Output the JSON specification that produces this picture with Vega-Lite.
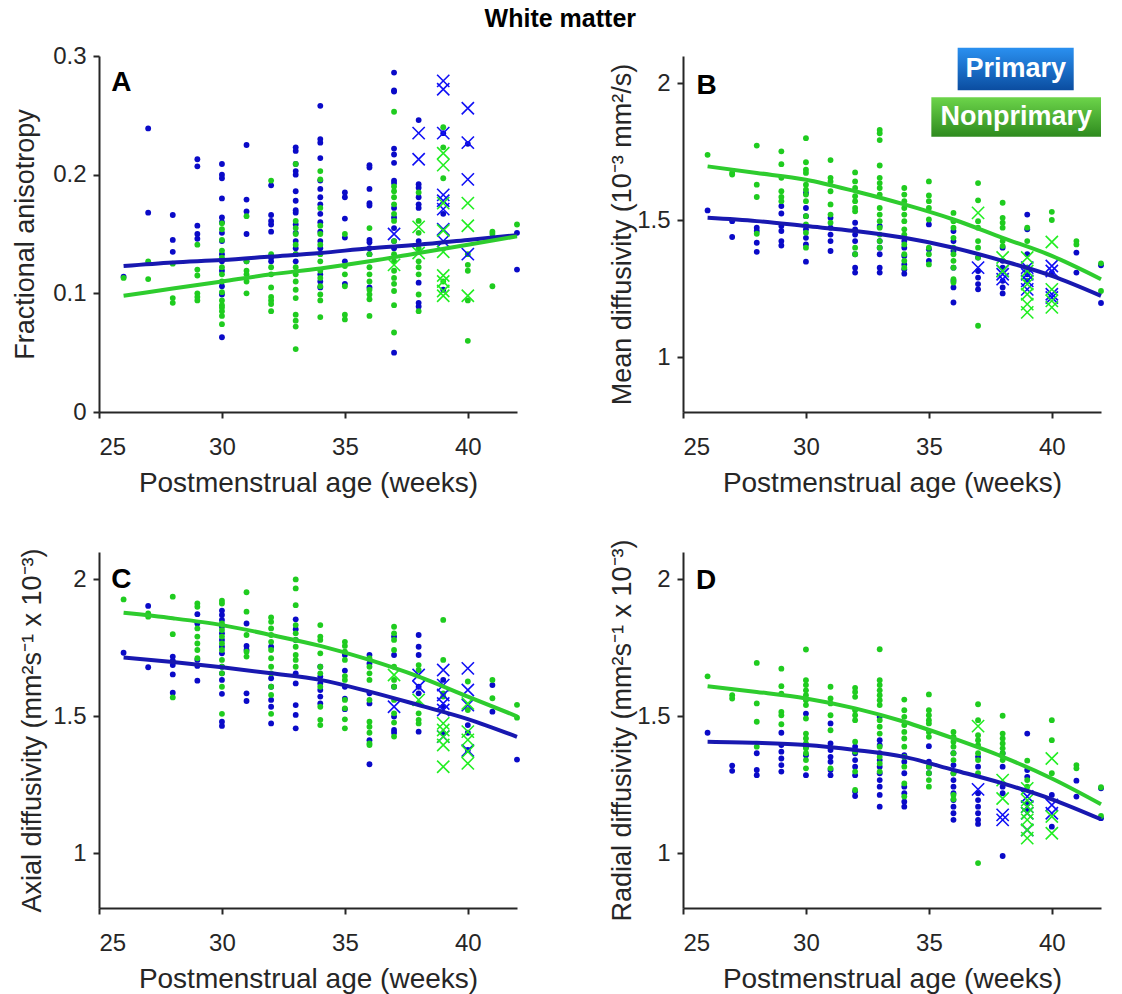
{
"$schema": "https://vega.github.io/schema/vega-lite/v6.json",
"padding": {"left": 11, "top": 7, "right": 5, "bottom": 5},
"title": {"text": "White matter", "fontSize": 25, "fontWeight": "bold", "color": "black", "font": "Liberation Sans", "offset": 12, "anchor": "middle"},
"config": {
  "font": "Liberation Sans",
  "view": {"stroke": null},
  "axis": {"grid": false, "domainColor": "#262626", "domainWidth": 2, "tickColor": "#262626", "tickWidth": 2, "tickSize": 6, "labelFontSize": 24, "labelColor": "#262626", "titleFontWeight": "normal", "titleColor": "#262626"},
  "axisX": {"labelPadding": 17, "titlePadding": 10, "titleFontSize": 28},
  "axisY": {"labelPadding": 7, "titleFontSize": 27}
},
"datasets": {
"A": [
{"g":"P","x":26,"y":0.114},{"g":"N","x":26,"y":0.113},
{"g":"P","x":27,"y":0.239},{"g":"P","x":27,"y":0.168},{"g":"N","x":27,"y":0.127},{"g":"N","x":27,"y":0.112},
{"g":"P","x":28,"y":0.166},{"g":"P","x":28,"y":0.145},{"g":"P","x":28,"y":0.135},{"g":"N","x":28,"y":0.125},{"g":"N","x":28,"y":0.096},{"g":"N","x":28,"y":0.092},
{"g":"P","x":29,"y":0.213},{"g":"P","x":29,"y":0.207},{"g":"P","x":29,"y":0.157},{"g":"P","x":29,"y":0.150},{"g":"P","x":29,"y":0.146},
{"g":"N","x":29,"y":0.141},{"g":"N","x":29,"y":0.120},{"g":"N","x":29,"y":0.115},{"g":"N","x":29,"y":0.100},{"g":"N","x":29,"y":0.097},{"g":"N","x":29,"y":0.094},
{"g":"P","x":30,"y":0.209},{"g":"P","x":30,"y":0.200},{"g":"P","x":30,"y":0.197},{"g":"P","x":30,"y":0.180},{"g":"P","x":30,"y":0.164},{"g":"P","x":30,"y":0.160},{"g":"P","x":30,"y":0.151},{"g":"P","x":30,"y":0.144},{"g":"P","x":30,"y":0.133},{"g":"P","x":30,"y":0.127},{"g":"P","x":30,"y":0.119},{"g":"P","x":30,"y":0.106},{"g":"P","x":30,"y":0.099},{"g":"P","x":30,"y":0.063},
{"g":"N","x":30,"y":0.159},{"g":"N","x":30,"y":0.154},{"g":"N","x":30,"y":0.145},{"g":"N","x":30,"y":0.136},{"g":"N","x":30,"y":0.130},{"g":"N","x":30,"y":0.122},{"g":"N","x":30,"y":0.116},{"g":"N","x":30,"y":0.110},{"g":"N","x":30,"y":0.101},{"g":"N","x":30,"y":0.094},{"g":"N","x":30,"y":0.090},{"g":"N","x":30,"y":0.088},{"g":"N","x":30,"y":0.085},{"g":"N","x":30,"y":0.081},{"g":"N","x":30,"y":0.074},
{"g":"P","x":31,"y":0.225},{"g":"P","x":31,"y":0.179},{"g":"P","x":31,"y":0.169},{"g":"P","x":31,"y":0.150},{"g":"P","x":31,"y":0.127},
{"g":"N","x":31,"y":0.165},{"g":"N","x":31,"y":0.127},{"g":"N","x":31,"y":0.119},{"g":"N","x":31,"y":0.116},{"g":"N","x":31,"y":0.110},{"g":"N","x":31,"y":0.100},
{"g":"P","x":32,"y":0.191},{"g":"P","x":32,"y":0.166},{"g":"P","x":32,"y":0.161},{"g":"P","x":32,"y":0.158},{"g":"P","x":32,"y":0.152},{"g":"P","x":32,"y":0.130},{"g":"P","x":32,"y":0.127},
{"g":"N","x":32,"y":0.195},{"g":"N","x":32,"y":0.133},{"g":"N","x":32,"y":0.122},{"g":"N","x":32,"y":0.116},{"g":"N","x":32,"y":0.105},{"g":"N","x":32,"y":0.097},{"g":"N","x":32,"y":0.094},{"g":"N","x":32,"y":0.091},{"g":"N","x":32,"y":0.085},
{"g":"P","x":33,"y":0.223},{"g":"P","x":33,"y":0.220},{"g":"P","x":33,"y":0.209},{"g":"P","x":33,"y":0.203},{"g":"P","x":33,"y":0.200},{"g":"P","x":33,"y":0.186},{"g":"P","x":33,"y":0.178},{"g":"P","x":33,"y":0.170},{"g":"P","x":33,"y":0.168},{"g":"P","x":33,"y":0.158},{"g":"P","x":33,"y":0.151},{"g":"P","x":33,"y":0.144},{"g":"P","x":33,"y":0.138},{"g":"P","x":33,"y":0.133},{"g":"P","x":33,"y":0.127},
{"g":"N","x":33,"y":0.209},{"g":"N","x":33,"y":0.161},{"g":"N","x":33,"y":0.155},{"g":"N","x":33,"y":0.150},{"g":"N","x":33,"y":0.141},{"g":"N","x":33,"y":0.133},{"g":"N","x":33,"y":0.122},{"g":"N","x":33,"y":0.116},{"g":"N","x":33,"y":0.110},{"g":"N","x":33,"y":0.103},{"g":"N","x":33,"y":0.096},{"g":"N","x":33,"y":0.082},{"g":"N","x":33,"y":0.077},{"g":"N","x":33,"y":0.072},{"g":"N","x":33,"y":0.053},
{"g":"P","x":34,"y":0.258},{"g":"P","x":34,"y":0.230},{"g":"P","x":34,"y":0.227},{"g":"P","x":34,"y":0.214},{"g":"P","x":34,"y":0.195},{"g":"P","x":34,"y":0.188},{"g":"P","x":34,"y":0.181},{"g":"P","x":34,"y":0.175},{"g":"P","x":34,"y":0.167},{"g":"P","x":34,"y":0.160},{"g":"P","x":34,"y":0.152},{"g":"P","x":34,"y":0.144},{"g":"P","x":34,"y":0.138},{"g":"P","x":34,"y":0.116},{"g":"P","x":34,"y":0.110},{"g":"P","x":34,"y":0.105},
{"g":"N","x":34,"y":0.203},{"g":"N","x":34,"y":0.196},{"g":"N","x":34,"y":0.172},{"g":"N","x":34,"y":0.157},{"g":"N","x":34,"y":0.150},{"g":"N","x":34,"y":0.141},{"g":"N","x":34,"y":0.133},{"g":"N","x":34,"y":0.127},{"g":"N","x":34,"y":0.119},{"g":"N","x":34,"y":0.113},{"g":"N","x":34,"y":0.106},{"g":"N","x":34,"y":0.099},{"g":"N","x":34,"y":0.094},{"g":"N","x":34,"y":0.080},
{"g":"P","x":35,"y":0.185},{"g":"P","x":35,"y":0.181},{"g":"P","x":35,"y":0.163},{"g":"P","x":35,"y":0.147},{"g":"P","x":35,"y":0.127},{"g":"P","x":35,"y":0.108},
{"g":"N","x":35,"y":0.150},{"g":"N","x":35,"y":0.123},{"g":"N","x":35,"y":0.116},{"g":"N","x":35,"y":0.106},{"g":"N","x":35,"y":0.082},{"g":"N","x":35,"y":0.078},
{"g":"P","x":36,"y":0.208},{"g":"P","x":36,"y":0.206},{"g":"P","x":36,"y":0.188},{"g":"P","x":36,"y":0.176},{"g":"P","x":36,"y":0.174},{"g":"P","x":36,"y":0.145},{"g":"P","x":36,"y":0.143},{"g":"P","x":36,"y":0.138},{"g":"P","x":36,"y":0.133},{"g":"P","x":36,"y":0.105},
{"g":"N","x":36,"y":0.155},{"g":"N","x":36,"y":0.133},{"g":"N","x":36,"y":0.122},{"g":"N","x":36,"y":0.116},{"g":"N","x":36,"y":0.110},{"g":"N","x":36,"y":0.103},{"g":"N","x":36,"y":0.099},{"g":"N","x":36,"y":0.095},{"g":"N","x":36,"y":0.081},
{"g":"P","x":37,"y":0.286},{"g":"P","x":37,"y":0.271},{"g":"P","x":37,"y":0.270},{"g":"P","x":37,"y":0.222},{"g":"P","x":37,"y":0.217},{"g":"P","x":37,"y":0.210},{"g":"P","x":37,"y":0.195},{"g":"P","x":37,"y":0.193},{"g":"P","x":37,"y":0.172},{"g":"P","x":37,"y":0.164},{"g":"P","x":37,"y":0.155},{"g":"P","x":37,"y":0.144},{"g":"P","x":37,"y":0.138},{"g":"P","x":37,"y":0.050},
{"g":"N","x":37,"y":0.253},{"g":"N","x":37,"y":0.190},{"g":"N","x":37,"y":0.186},{"g":"N","x":37,"y":0.181},{"g":"N","x":37,"y":0.175},{"g":"N","x":37,"y":0.167},{"g":"N","x":37,"y":0.161},{"g":"N","x":37,"y":0.144},{"g":"N","x":37,"y":0.133},{"g":"N","x":37,"y":0.127},{"g":"N","x":37,"y":0.119},{"g":"N","x":37,"y":0.113},{"g":"N","x":37,"y":0.108},{"g":"N","x":37,"y":0.102},{"g":"N","x":37,"y":0.090},{"g":"N","x":37,"y":0.067},
{"g":"P","x":38,"y":0.246},{"g":"P","x":38,"y":0.192},{"g":"P","x":38,"y":0.189},{"g":"P","x":38,"y":0.181},{"g":"P","x":38,"y":0.175},{"g":"P","x":38,"y":0.172},{"g":"P","x":38,"y":0.144},{"g":"P","x":38,"y":0.109},{"g":"P","x":38,"y":0.092},{"g":"P","x":38,"y":0.089},
{"g":"N","x":38,"y":0.185},{"g":"N","x":38,"y":0.161},{"g":"N","x":38,"y":0.151},{"g":"N","x":38,"y":0.138},{"g":"N","x":38,"y":0.127},{"g":"N","x":38,"y":0.122},{"g":"N","x":38,"y":0.116},{"g":"N","x":38,"y":0.099},{"g":"N","x":38,"y":0.085},
{"g":"P","x":39,"y":0.235},{"g":"P","x":39,"y":0.167},{"g":"P","x":39,"y":0.103},
{"g":"N","x":39,"y":0.240},{"g":"N","x":39,"y":0.223},{"g":"N","x":39,"y":0.197},{"g":"N","x":39,"y":0.110},
{"g":"P","x":40,"y":0.226},
{"g":"N","x":40,"y":0.133},{"g":"N","x":40,"y":0.124},{"g":"N","x":40,"y":0.119},{"g":"N","x":40,"y":0.094},{"g":"N","x":40,"y":0.060},
{"g":"N","x":41,"y":0.152},{"g":"N","x":41,"y":0.150},{"g":"N","x":41,"y":0.106},
{"g":"P","x":42,"y":0.151},{"g":"P","x":42,"y":0.120},{"g":"N","x":42,"y":0.158}
],
"Ax": [
{"g":"P","x":37,"y":0.150},{"g":"P","x":38,"y":0.235},{"g":"P","x":38,"y":0.213},
{"g":"P","x":39,"y":0.279},{"g":"P","x":39,"y":0.272},{"g":"P","x":39,"y":0.235},{"g":"P","x":39,"y":0.183},{"g":"P","x":39,"y":0.178},{"g":"P","x":39,"y":0.171},{"g":"P","x":39,"y":0.154},{"g":"P","x":39,"y":0.144},
{"g":"P","x":40,"y":0.256},{"g":"P","x":40,"y":0.227},{"g":"P","x":40,"y":0.196},{"g":"P","x":40,"y":0.133},
{"g":"N","x":37,"y":0.124},{"g":"N","x":38,"y":0.156},{"g":"N","x":38,"y":0.134},
{"g":"N","x":39,"y":0.218},{"g":"N","x":39,"y":0.208},{"g":"N","x":39,"y":0.176},{"g":"N","x":39,"y":0.153},{"g":"N","x":39,"y":0.135},{"g":"N","x":39,"y":0.115},{"g":"N","x":39,"y":0.110},{"g":"N","x":39,"y":0.102},{"g":"N","x":39,"y":0.098},
{"g":"N","x":40,"y":0.176},{"g":"N","x":40,"y":0.157},{"g":"N","x":40,"y":0.098}
],
"B": [
{"g":"P","x":26,"y":1.536},{"g":"N","x":26,"y":1.739},
{"g":"P","x":27,"y":1.497},{"g":"P","x":27,"y":1.439},{"g":"N","x":27,"y":1.673},{"g":"N","x":27,"y":1.667},
{"g":"P","x":28,"y":1.473},{"g":"P","x":28,"y":1.461},{"g":"P","x":28,"y":1.418},{"g":"P","x":28,"y":1.385},
{"g":"N","x":28,"y":1.773},{"g":"N","x":28,"y":1.630},{"g":"N","x":28,"y":1.585},{"g":"N","x":28,"y":1.451},
{"g":"P","x":29,"y":1.552},{"g":"P","x":29,"y":1.525},{"g":"P","x":29,"y":1.479},{"g":"P","x":29,"y":1.461},{"g":"P","x":29,"y":1.424},{"g":"P","x":29,"y":1.408},
{"g":"N","x":29,"y":1.752},{"g":"N","x":29,"y":1.705},{"g":"N","x":29,"y":1.655},{"g":"N","x":29,"y":1.606},{"g":"N","x":29,"y":1.585},{"g":"N","x":29,"y":1.570},
{"g":"P","x":30,"y":1.600},{"g":"P","x":30,"y":1.545},{"g":"P","x":30,"y":1.515},{"g":"P","x":30,"y":1.467},{"g":"P","x":30,"y":1.436},{"g":"P","x":30,"y":1.412},{"g":"P","x":30,"y":1.349},
{"g":"N","x":30,"y":1.800},{"g":"N","x":30,"y":1.712},{"g":"N","x":30,"y":1.685},{"g":"N","x":30,"y":1.673},{"g":"N","x":30,"y":1.630},{"g":"N","x":30,"y":1.612},{"g":"N","x":30,"y":1.594},{"g":"N","x":30,"y":1.570},{"g":"N","x":30,"y":1.515},{"g":"N","x":30,"y":1.485},{"g":"N","x":30,"y":1.455},{"g":"N","x":30,"y":1.400},
{"g":"P","x":31,"y":1.509},{"g":"P","x":31,"y":1.473},{"g":"P","x":31,"y":1.448},{"g":"P","x":31,"y":1.424},{"g":"P","x":31,"y":1.388},
{"g":"N","x":31,"y":1.720},{"g":"N","x":31,"y":1.655},{"g":"N","x":31,"y":1.642},{"g":"N","x":31,"y":1.606},{"g":"N","x":31,"y":1.558},{"g":"N","x":31,"y":1.521},{"g":"N","x":31,"y":1.491},
{"g":"P","x":32,"y":1.491},{"g":"P","x":32,"y":1.467},{"g":"P","x":32,"y":1.448},{"g":"P","x":32,"y":1.424},{"g":"P","x":32,"y":1.376},{"g":"P","x":32,"y":1.327},{"g":"P","x":32,"y":1.309},
{"g":"N","x":32,"y":1.675},{"g":"N","x":32,"y":1.642},{"g":"N","x":32,"y":1.618},{"g":"N","x":32,"y":1.588},{"g":"N","x":32,"y":1.570},{"g":"N","x":32,"y":1.545},{"g":"N","x":32,"y":1.533},{"g":"N","x":32,"y":1.400},{"g":"N","x":32,"y":1.376},
{"g":"P","x":33,"y":1.479},{"g":"P","x":33,"y":1.424},{"g":"P","x":33,"y":1.400},{"g":"P","x":33,"y":1.376},{"g":"P","x":33,"y":1.327},{"g":"P","x":33,"y":1.309},
{"g":"N","x":33,"y":1.830},{"g":"N","x":33,"y":1.818},{"g":"N","x":33,"y":1.793},{"g":"N","x":33,"y":1.700},{"g":"N","x":33,"y":1.655},{"g":"N","x":33,"y":1.636},{"g":"N","x":33,"y":1.618},{"g":"N","x":33,"y":1.594},{"g":"N","x":33,"y":1.545},{"g":"N","x":33,"y":1.521},{"g":"N","x":33,"y":1.497},{"g":"N","x":33,"y":1.473},{"g":"N","x":33,"y":1.448},{"g":"N","x":33,"y":1.424},{"g":"N","x":33,"y":1.400},
{"g":"P","x":34,"y":1.424},{"g":"P","x":34,"y":1.400},{"g":"P","x":34,"y":1.370},{"g":"P","x":34,"y":1.339},{"g":"P","x":34,"y":1.321},{"g":"P","x":34,"y":1.305},
{"g":"N","x":34,"y":1.618},{"g":"N","x":34,"y":1.594},{"g":"N","x":34,"y":1.570},{"g":"N","x":34,"y":1.545},{"g":"N","x":34,"y":1.521},{"g":"N","x":34,"y":1.497},{"g":"N","x":34,"y":1.467},{"g":"N","x":34,"y":1.448},{"g":"N","x":34,"y":1.412},{"g":"N","x":34,"y":1.376},{"g":"N","x":34,"y":1.352},{"g":"N","x":34,"y":1.327},
{"g":"P","x":35,"y":1.485},{"g":"P","x":35,"y":1.394},{"g":"P","x":35,"y":1.352},
{"g":"N","x":35,"y":1.642},{"g":"N","x":35,"y":1.591},{"g":"N","x":35,"y":1.570},{"g":"N","x":35,"y":1.545},{"g":"N","x":35,"y":1.503},{"g":"N","x":35,"y":1.400},{"g":"N","x":35,"y":1.376},{"g":"N","x":35,"y":1.339},
{"g":"P","x":36,"y":1.461},{"g":"P","x":36,"y":1.424},{"g":"P","x":36,"y":1.388},{"g":"P","x":36,"y":1.327},{"g":"P","x":36,"y":1.279},{"g":"P","x":36,"y":1.255},{"g":"P","x":36,"y":1.200},
{"g":"N","x":36,"y":1.527},{"g":"N","x":36,"y":1.497},{"g":"N","x":36,"y":1.473},{"g":"N","x":36,"y":1.436},{"g":"N","x":36,"y":1.400},{"g":"N","x":36,"y":1.376},{"g":"N","x":36,"y":1.352},{"g":"N","x":36,"y":1.327},{"g":"N","x":36,"y":1.285},{"g":"N","x":36,"y":1.273},
{"g":"P","x":37,"y":1.364},{"g":"P","x":37,"y":1.315},{"g":"P","x":37,"y":1.291},{"g":"P","x":37,"y":1.267},{"g":"P","x":37,"y":1.248},
{"g":"N","x":37,"y":1.636},{"g":"N","x":37,"y":1.573},{"g":"N","x":37,"y":1.497},{"g":"N","x":37,"y":1.473},{"g":"N","x":37,"y":1.424},{"g":"N","x":37,"y":1.400},{"g":"N","x":37,"y":1.364},{"g":"N","x":37,"y":1.115},
{"g":"P","x":38,"y":1.400},{"g":"P","x":38,"y":1.352},{"g":"P","x":38,"y":1.327},{"g":"P","x":38,"y":1.279},{"g":"P","x":38,"y":1.255},{"g":"P","x":38,"y":1.233},
{"g":"N","x":38,"y":1.564},{"g":"N","x":38,"y":1.509},{"g":"N","x":38,"y":1.491},{"g":"N","x":38,"y":1.473},{"g":"N","x":38,"y":1.424},{"g":"N","x":38,"y":1.406},
{"g":"P","x":39,"y":1.521},{"g":"P","x":39,"y":1.467},{"g":"P","x":39,"y":1.376},{"g":"P","x":39,"y":1.327},{"g":"P","x":39,"y":1.303},{"g":"P","x":39,"y":1.279},
{"g":"N","x":39,"y":1.473},{"g":"N","x":39,"y":1.424},{"g":"N","x":39,"y":1.327},{"g":"N","x":39,"y":1.279},
{"g":"P","x":40,"y":1.309},{"g":"N","x":40,"y":1.531},{"g":"N","x":40,"y":1.501},
{"g":"P","x":41,"y":1.382},{"g":"P","x":41,"y":1.309},{"g":"N","x":41,"y":1.424},{"g":"N","x":41,"y":1.412},
{"g":"P","x":42,"y":1.336},{"g":"P","x":42,"y":1.198},{"g":"N","x":42,"y":1.343},{"g":"N","x":42,"y":1.242}
],
"Bx": [
{"g":"P","x":37,"y":1.327},{"g":"P","x":38,"y":1.315},{"g":"P","x":38,"y":1.303},{"g":"P","x":38,"y":1.285},
{"g":"P","x":39,"y":1.327},{"g":"P","x":39,"y":1.303},{"g":"P","x":39,"y":1.279},{"g":"P","x":39,"y":1.248},
{"g":"P","x":40,"y":1.333},{"g":"P","x":40,"y":1.315},{"g":"P","x":40,"y":1.230},{"g":"P","x":40,"y":1.218},
{"g":"N","x":37,"y":1.527},{"g":"N","x":38,"y":1.364},{"g":"N","x":38,"y":1.315},
{"g":"N","x":39,"y":1.364},{"g":"N","x":39,"y":1.315},{"g":"N","x":39,"y":1.267},{"g":"N","x":39,"y":1.230},{"g":"N","x":39,"y":1.194},{"g":"N","x":39,"y":1.164},
{"g":"N","x":40,"y":1.421},{"g":"N","x":40,"y":1.248},{"g":"N","x":40,"y":1.206},{"g":"N","x":40,"y":1.182}
],
"C": [
{"g":"P","x":26,"y":1.732},{"g":"N","x":26,"y":1.927},
{"g":"P","x":27,"y":1.903},{"g":"P","x":27,"y":1.679},{"g":"N","x":27,"y":1.876},{"g":"N","x":27,"y":1.864},
{"g":"P","x":28,"y":1.718},{"g":"P","x":28,"y":1.703},{"g":"P","x":28,"y":1.687},{"g":"P","x":28,"y":1.653},{"g":"P","x":28,"y":1.586},
{"g":"N","x":28,"y":1.937},{"g":"N","x":28,"y":1.800},{"g":"N","x":28,"y":1.569},
{"g":"P","x":29,"y":1.873},{"g":"P","x":29,"y":1.839},{"g":"P","x":29,"y":1.706},{"g":"P","x":29,"y":1.684},{"g":"P","x":29,"y":1.630},
{"g":"N","x":29,"y":1.912},{"g":"N","x":29,"y":1.900},{"g":"N","x":29,"y":1.821},{"g":"N","x":29,"y":1.791},{"g":"N","x":29,"y":1.766},{"g":"N","x":29,"y":1.742},{"g":"N","x":29,"y":1.712},
{"g":"P","x":30,"y":1.886},{"g":"P","x":30,"y":1.870},{"g":"P","x":30,"y":1.852},{"g":"P","x":30,"y":1.827},{"g":"P","x":30,"y":1.803},{"g":"P","x":30,"y":1.779},{"g":"P","x":30,"y":1.754},{"g":"P","x":30,"y":1.730},{"g":"P","x":30,"y":1.681},{"g":"P","x":30,"y":1.657},{"g":"P","x":30,"y":1.633},{"g":"P","x":30,"y":1.582},{"g":"P","x":30,"y":1.480},{"g":"P","x":30,"y":1.465},
{"g":"N","x":30,"y":1.922},{"g":"N","x":30,"y":1.912},{"g":"N","x":30,"y":1.839},{"g":"N","x":30,"y":1.815},{"g":"N","x":30,"y":1.791},{"g":"N","x":30,"y":1.766},{"g":"N","x":30,"y":1.742},{"g":"N","x":30,"y":1.706},{"g":"N","x":30,"y":1.681},{"g":"N","x":30,"y":1.657},{"g":"N","x":30,"y":1.608},{"g":"N","x":30,"y":1.509},
{"g":"P","x":31,"y":1.839},{"g":"P","x":31,"y":1.757},{"g":"P","x":31,"y":1.742},{"g":"P","x":31,"y":1.584},{"g":"P","x":31,"y":1.556},
{"g":"N","x":31,"y":1.953},{"g":"N","x":31,"y":1.882},{"g":"N","x":31,"y":1.797},{"g":"N","x":31,"y":1.736},{"g":"N","x":31,"y":1.718},
{"g":"P","x":32,"y":1.754},{"g":"P","x":32,"y":1.639},{"g":"P","x":32,"y":1.608},{"g":"P","x":32,"y":1.560},{"g":"P","x":32,"y":1.535},{"g":"P","x":32,"y":1.474},
{"g":"N","x":32,"y":1.861},{"g":"N","x":32,"y":1.845},{"g":"N","x":32,"y":1.821},{"g":"N","x":32,"y":1.797},{"g":"N","x":32,"y":1.772},{"g":"N","x":32,"y":1.742},{"g":"N","x":32,"y":1.712},{"g":"N","x":32,"y":1.681},{"g":"N","x":32,"y":1.657},{"g":"N","x":32,"y":1.608},{"g":"N","x":32,"y":1.578},{"g":"N","x":32,"y":1.509},
{"g":"P","x":33,"y":1.854},{"g":"P","x":33,"y":1.818},{"g":"P","x":33,"y":1.779},{"g":"P","x":33,"y":1.657},{"g":"P","x":33,"y":1.620},{"g":"P","x":33,"y":1.541},{"g":"P","x":33,"y":1.505},{"g":"P","x":33,"y":1.456},
{"g":"N","x":33,"y":2.000},{"g":"N","x":33,"y":1.967},{"g":"N","x":33,"y":1.906},{"g":"N","x":33,"y":1.833},{"g":"N","x":33,"y":1.803},{"g":"N","x":33,"y":1.779},{"g":"N","x":33,"y":1.754},{"g":"N","x":33,"y":1.724},{"g":"N","x":33,"y":1.706},{"g":"N","x":33,"y":1.681},
{"g":"P","x":34,"y":1.681},{"g":"P","x":34,"y":1.645},{"g":"P","x":34,"y":1.620},{"g":"P","x":34,"y":1.596},{"g":"P","x":34,"y":1.572},{"g":"P","x":34,"y":1.547},
{"g":"N","x":34,"y":1.833},{"g":"N","x":34,"y":1.791},{"g":"N","x":34,"y":1.779},{"g":"N","x":34,"y":1.730},{"g":"N","x":34,"y":1.681},{"g":"N","x":34,"y":1.657},{"g":"N","x":34,"y":1.608},{"g":"N","x":34,"y":1.535},{"g":"N","x":34,"y":1.487},{"g":"N","x":34,"y":1.468},
{"g":"P","x":35,"y":1.724},{"g":"P","x":35,"y":1.667},{"g":"P","x":35,"y":1.608},{"g":"P","x":35,"y":1.564},{"g":"P","x":35,"y":1.526},
{"g":"N","x":35,"y":1.772},{"g":"N","x":35,"y":1.757},{"g":"N","x":35,"y":1.736},{"g":"N","x":35,"y":1.706},{"g":"N","x":35,"y":1.647},{"g":"N","x":35,"y":1.633},{"g":"N","x":35,"y":1.560},{"g":"N","x":35,"y":1.529},{"g":"N","x":35,"y":1.489},{"g":"N","x":35,"y":1.456},
{"g":"P","x":36,"y":1.724},{"g":"P","x":36,"y":1.693},{"g":"P","x":36,"y":1.584},{"g":"P","x":36,"y":1.547},{"g":"P","x":36,"y":1.413},{"g":"P","x":36,"y":1.325},
{"g":"N","x":36,"y":1.712},{"g":"N","x":36,"y":1.681},{"g":"N","x":36,"y":1.657},{"g":"N","x":36,"y":1.633},{"g":"N","x":36,"y":1.560},{"g":"N","x":36,"y":1.480},{"g":"N","x":36,"y":1.462},{"g":"N","x":36,"y":1.440},{"g":"N","x":36,"y":1.401},{"g":"N","x":36,"y":1.395},
{"g":"P","x":37,"y":1.791},{"g":"P","x":37,"y":1.724},{"g":"P","x":37,"y":1.608},{"g":"P","x":37,"y":1.499},{"g":"P","x":37,"y":1.450},{"g":"P","x":37,"y":1.440},
{"g":"N","x":37,"y":1.827},{"g":"N","x":37,"y":1.803},{"g":"N","x":37,"y":1.779},{"g":"N","x":37,"y":1.742},{"g":"N","x":37,"y":1.681},{"g":"N","x":37,"y":1.633},{"g":"N","x":37,"y":1.608},{"g":"N","x":37,"y":1.560},{"g":"N","x":37,"y":1.511},{"g":"N","x":37,"y":1.477},{"g":"N","x":37,"y":1.426},
{"g":"P","x":38,"y":1.797},{"g":"P","x":38,"y":1.754},{"g":"P","x":38,"y":1.724},{"g":"P","x":38,"y":1.608},{"g":"P","x":38,"y":1.584},{"g":"P","x":38,"y":1.444},
{"g":"N","x":38,"y":1.687},{"g":"N","x":38,"y":1.669},{"g":"N","x":38,"y":1.547},{"g":"N","x":38,"y":1.511},{"g":"N","x":38,"y":1.487},{"g":"N","x":38,"y":1.474},
{"g":"P","x":39,"y":1.633},{"g":"P","x":39,"y":1.535},{"g":"P","x":39,"y":1.438},
{"g":"N","x":39,"y":1.852},{"g":"N","x":39,"y":1.706},{"g":"N","x":39,"y":1.584},{"g":"N","x":39,"y":1.572},
{"g":"P","x":40,"y":1.468},{"g":"P","x":40,"y":1.440},{"g":"P","x":40,"y":1.377},{"g":"N","x":40,"y":1.627},{"g":"N","x":40,"y":1.523},
{"g":"P","x":41,"y":1.614},{"g":"P","x":41,"y":1.517},{"g":"N","x":41,"y":1.633},{"g":"N","x":41,"y":1.566},
{"g":"P","x":42,"y":1.342},{"g":"N","x":42,"y":1.542},{"g":"N","x":42,"y":1.495}
],
"Cx": [
{"g":"P","x":37,"y":1.535},{"g":"P","x":38,"y":1.651},{"g":"P","x":38,"y":1.608},
{"g":"P","x":39,"y":1.669},{"g":"P","x":39,"y":1.614},{"g":"P","x":39,"y":1.578},{"g":"P","x":39,"y":1.547},{"g":"P","x":39,"y":1.523},{"g":"P","x":39,"y":1.426},
{"g":"P","x":40,"y":1.675},{"g":"P","x":40,"y":1.596},{"g":"P","x":40,"y":1.541},{"g":"P","x":40,"y":1.375},
{"g":"N","x":37,"y":1.651},{"g":"N","x":38,"y":1.560},
{"g":"N","x":39,"y":1.474},{"g":"N","x":39,"y":1.450},{"g":"N","x":39,"y":1.426},{"g":"N","x":39,"y":1.395},{"g":"N","x":39,"y":1.316},
{"g":"N","x":40,"y":1.547},{"g":"N","x":40,"y":1.444},{"g":"N","x":40,"y":1.414},{"g":"N","x":40,"y":1.371},{"g":"N","x":40,"y":1.328}
],
"D": [
{"g":"P","x":26,"y":1.440},{"g":"N","x":26,"y":1.646},
{"g":"P","x":27,"y":1.320},{"g":"P","x":27,"y":1.301},{"g":"N","x":27,"y":1.577},{"g":"N","x":27,"y":1.565},
{"g":"P","x":28,"y":1.365},{"g":"P","x":28,"y":1.304},{"g":"P","x":28,"y":1.285},
{"g":"N","x":28,"y":1.695},{"g":"N","x":28,"y":1.547},{"g":"N","x":28,"y":1.480},{"g":"N","x":28,"y":1.389},
{"g":"P","x":29,"y":1.440},{"g":"P","x":29,"y":1.395},{"g":"P","x":29,"y":1.371},{"g":"P","x":29,"y":1.346},{"g":"P","x":29,"y":1.322},{"g":"P","x":29,"y":1.298},
{"g":"N","x":29,"y":1.674},{"g":"N","x":29,"y":1.610},{"g":"N","x":29,"y":1.583},{"g":"N","x":29,"y":1.516},{"g":"N","x":29,"y":1.504},{"g":"N","x":29,"y":1.471},
{"g":"P","x":30,"y":1.510},{"g":"P","x":30,"y":1.389},{"g":"P","x":30,"y":1.358},{"g":"P","x":30,"y":1.285},
{"g":"N","x":30,"y":1.744},{"g":"N","x":30,"y":1.632},{"g":"N","x":30,"y":1.614},{"g":"N","x":30,"y":1.595},{"g":"N","x":30,"y":1.577},{"g":"N","x":30,"y":1.559},{"g":"N","x":30,"y":1.541},{"g":"N","x":30,"y":1.492},{"g":"N","x":30,"y":1.437},{"g":"N","x":30,"y":1.419},{"g":"N","x":30,"y":1.401},{"g":"N","x":30,"y":1.383},{"g":"N","x":30,"y":1.365},{"g":"N","x":30,"y":1.340},{"g":"N","x":30,"y":1.310},
{"g":"P","x":31,"y":1.474},{"g":"P","x":31,"y":1.401},{"g":"P","x":31,"y":1.377},{"g":"P","x":31,"y":1.352},{"g":"P","x":31,"y":1.334},{"g":"P","x":31,"y":1.304},{"g":"P","x":31,"y":1.285},
{"g":"N","x":31,"y":1.608},{"g":"N","x":31,"y":1.565},{"g":"N","x":31,"y":1.547},{"g":"N","x":31,"y":1.504},{"g":"N","x":31,"y":1.449},{"g":"N","x":31,"y":1.310},
{"g":"P","x":32,"y":1.389},{"g":"P","x":32,"y":1.365},{"g":"P","x":32,"y":1.340},{"g":"P","x":32,"y":1.316},{"g":"P","x":32,"y":1.285},{"g":"P","x":32,"y":1.225},{"g":"P","x":32,"y":1.209},
{"g":"N","x":32,"y":1.604},{"g":"N","x":32,"y":1.589},{"g":"N","x":32,"y":1.571},{"g":"N","x":32,"y":1.522},{"g":"N","x":32,"y":1.504},{"g":"N","x":32,"y":1.486},{"g":"N","x":32,"y":1.407},{"g":"N","x":32,"y":1.371},{"g":"N","x":32,"y":1.298},{"g":"N","x":32,"y":1.231},
{"g":"P","x":33,"y":1.498},{"g":"P","x":33,"y":1.413},{"g":"P","x":33,"y":1.395},{"g":"P","x":33,"y":1.365},{"g":"P","x":33,"y":1.340},{"g":"P","x":33,"y":1.316},{"g":"P","x":33,"y":1.292},{"g":"P","x":33,"y":1.267},{"g":"P","x":33,"y":1.243},{"g":"P","x":33,"y":1.213},{"g":"P","x":33,"y":1.170},
{"g":"N","x":33,"y":1.745},{"g":"N","x":33,"y":1.632},{"g":"N","x":33,"y":1.614},{"g":"N","x":33,"y":1.595},{"g":"N","x":33,"y":1.577},{"g":"N","x":33,"y":1.559},{"g":"N","x":33,"y":1.541},{"g":"N","x":33,"y":1.486},{"g":"N","x":33,"y":1.462},{"g":"N","x":33,"y":1.437},{"g":"N","x":33,"y":1.389},{"g":"N","x":33,"y":1.352},{"g":"N","x":33,"y":1.328},{"g":"N","x":33,"y":1.298},
{"g":"P","x":34,"y":1.358},{"g":"P","x":34,"y":1.334},{"g":"P","x":34,"y":1.292},{"g":"P","x":34,"y":1.243},{"g":"P","x":34,"y":1.219},{"g":"P","x":34,"y":1.188},{"g":"P","x":34,"y":1.170},
{"g":"N","x":34,"y":1.561},{"g":"N","x":34,"y":1.522},{"g":"N","x":34,"y":1.498},{"g":"N","x":34,"y":1.468},{"g":"N","x":34,"y":1.443},{"g":"N","x":34,"y":1.419},{"g":"N","x":34,"y":1.389},{"g":"N","x":34,"y":1.352},{"g":"N","x":34,"y":1.316},{"g":"N","x":34,"y":1.255},{"g":"N","x":34,"y":1.207},
{"g":"P","x":35,"y":1.391},{"g":"P","x":35,"y":1.334},{"g":"P","x":35,"y":1.316},{"g":"P","x":35,"y":1.292},
{"g":"N","x":35,"y":1.580},{"g":"N","x":35,"y":1.522},{"g":"N","x":35,"y":1.504},{"g":"N","x":35,"y":1.486},{"g":"N","x":35,"y":1.474},{"g":"N","x":35,"y":1.443},{"g":"N","x":35,"y":1.425},{"g":"N","x":35,"y":1.316},{"g":"N","x":35,"y":1.292},{"g":"N","x":35,"y":1.267},{"g":"N","x":35,"y":1.243},
{"g":"P","x":36,"y":1.365},{"g":"P","x":36,"y":1.322},{"g":"P","x":36,"y":1.292},{"g":"P","x":36,"y":1.267},{"g":"P","x":36,"y":1.243},{"g":"P","x":36,"y":1.219},{"g":"P","x":36,"y":1.194},{"g":"P","x":36,"y":1.170},{"g":"P","x":36,"y":1.146},{"g":"P","x":36,"y":1.122},
{"g":"N","x":36,"y":1.443},{"g":"N","x":36,"y":1.425},{"g":"N","x":36,"y":1.407},{"g":"N","x":36,"y":1.389},{"g":"N","x":36,"y":1.365},{"g":"N","x":36,"y":1.340},{"g":"N","x":36,"y":1.292},{"g":"N","x":36,"y":1.213},{"g":"N","x":36,"y":1.197},
{"g":"P","x":37,"y":1.352},{"g":"P","x":37,"y":1.316},{"g":"P","x":37,"y":1.219},{"g":"P","x":37,"y":1.194},{"g":"P","x":37,"y":1.170},{"g":"P","x":37,"y":1.146},{"g":"P","x":37,"y":1.122},{"g":"P","x":37,"y":1.107},
{"g":"N","x":37,"y":1.544},{"g":"N","x":37,"y":1.486},{"g":"N","x":37,"y":1.431},{"g":"N","x":37,"y":1.413},{"g":"N","x":37,"y":1.395},{"g":"N","x":37,"y":1.365},{"g":"N","x":37,"y":1.340},{"g":"N","x":37,"y":1.292},{"g":"N","x":37,"y":0.964},
{"g":"P","x":38,"y":1.365},{"g":"P","x":38,"y":1.316},{"g":"P","x":38,"y":1.243},{"g":"P","x":38,"y":1.219},{"g":"P","x":38,"y":0.990},
{"g":"N","x":38,"y":1.502},{"g":"N","x":38,"y":1.437},{"g":"N","x":38,"y":1.419},{"g":"N","x":38,"y":1.401},{"g":"N","x":38,"y":1.383},{"g":"N","x":38,"y":1.365},{"g":"N","x":38,"y":1.340},
{"g":"P","x":39,"y":1.437},{"g":"P","x":39,"y":1.304},{"g":"P","x":39,"y":1.279},{"g":"P","x":39,"y":1.182},{"g":"P","x":39,"y":1.158},
{"g":"N","x":39,"y":1.338},{"g":"N","x":39,"y":1.267},{"g":"N","x":39,"y":1.243},
{"g":"P","x":40,"y":1.213},{"g":"P","x":40,"y":1.097},{"g":"N","x":40,"y":1.486},{"g":"N","x":40,"y":1.413},{"g":"N","x":40,"y":1.292},
{"g":"P","x":41,"y":1.265},{"g":"P","x":41,"y":1.207},{"g":"N","x":41,"y":1.322},{"g":"N","x":41,"y":1.310},
{"g":"P","x":42,"y":1.237},{"g":"P","x":42,"y":1.128},{"g":"N","x":42,"y":1.241},{"g":"N","x":42,"y":1.136}
],
"Dx": [
{"g":"P","x":37,"y":1.233},{"g":"P","x":38,"y":1.140},{"g":"P","x":38,"y":1.122},
{"g":"P","x":39,"y":1.207},{"g":"P","x":39,"y":1.170},{"g":"P","x":39,"y":1.146},{"g":"P","x":39,"y":1.085},
{"g":"P","x":40,"y":1.176},{"g":"P","x":40,"y":1.146},
{"g":"N","x":37,"y":1.464},{"g":"N","x":38,"y":1.267},{"g":"N","x":38,"y":1.200},
{"g":"N","x":39,"y":1.237},{"g":"N","x":39,"y":1.194},{"g":"N","x":39,"y":1.170},{"g":"N","x":39,"y":1.146},{"g":"N","x":39,"y":1.122},{"g":"N","x":39,"y":1.085},{"g":"N","x":39,"y":1.055},
{"g":"N","x":40,"y":1.346},{"g":"N","x":40,"y":1.134},{"g":"N","x":40,"y":1.073}
],
"fits": [
{"p":"A","g":"P","x":26,"y":0.123},{"p":"A","g":"P","x":28,"y":0.126},{"p":"A","g":"P","x":30,"y":0.128},{"p":"A","g":"P","x":32,"y":0.131},{"p":"A","g":"P","x":34,"y":0.134},{"p":"A","g":"P","x":36,"y":0.138},{"p":"A","g":"P","x":38,"y":0.141},{"p":"A","g":"P","x":40,"y":0.145},{"p":"A","g":"P","x":42,"y":0.149},
{"p":"A","g":"N","x":26,"y":0.098},{"p":"A","g":"N","x":28,"y":0.104},{"p":"A","g":"N","x":30,"y":0.110},{"p":"A","g":"N","x":32,"y":0.116},{"p":"A","g":"N","x":34,"y":0.121},{"p":"A","g":"N","x":36,"y":0.127},{"p":"A","g":"N","x":38,"y":0.134},{"p":"A","g":"N","x":40,"y":0.141},{"p":"A","g":"N","x":42,"y":0.148},
{"p":"B","g":"P","x":26,"y":1.509},{"p":"B","g":"P","x":28,"y":1.497},{"p":"B","g":"P","x":30,"y":1.479},{"p":"B","g":"P","x":32,"y":1.461},{"p":"B","g":"P","x":34,"y":1.436},{"p":"B","g":"P","x":36,"y":1.400},{"p":"B","g":"P","x":38,"y":1.352},{"p":"B","g":"P","x":40,"y":1.297},{"p":"B","g":"P","x":42,"y":1.224},
{"p":"B","g":"N","x":26,"y":1.697},{"p":"B","g":"N","x":28,"y":1.673},{"p":"B","g":"N","x":30,"y":1.648},{"p":"B","g":"N","x":32,"y":1.606},{"p":"B","g":"N","x":34,"y":1.558},{"p":"B","g":"N","x":36,"y":1.503},{"p":"B","g":"N","x":38,"y":1.436},{"p":"B","g":"N","x":40,"y":1.370},{"p":"B","g":"N","x":42,"y":1.285},
{"p":"C","g":"P","x":26,"y":1.715},{"p":"C","g":"P","x":28,"y":1.698},{"p":"C","g":"P","x":30,"y":1.679},{"p":"C","g":"P","x":32,"y":1.657},{"p":"C","g":"P","x":34,"y":1.633},{"p":"C","g":"P","x":36,"y":1.590},{"p":"C","g":"P","x":38,"y":1.541},{"p":"C","g":"P","x":40,"y":1.490},{"p":"C","g":"P","x":42,"y":1.425},
{"p":"C","g":"N","x":26,"y":1.878},{"p":"C","g":"N","x":28,"y":1.858},{"p":"C","g":"N","x":30,"y":1.833},{"p":"C","g":"N","x":32,"y":1.797},{"p":"C","g":"N","x":34,"y":1.757},{"p":"C","g":"N","x":36,"y":1.706},{"p":"C","g":"N","x":38,"y":1.645},{"p":"C","g":"N","x":40,"y":1.572},{"p":"C","g":"N","x":42,"y":1.500},
{"p":"D","g":"P","x":26,"y":1.407},{"p":"D","g":"P","x":28,"y":1.403},{"p":"D","g":"P","x":30,"y":1.395},{"p":"D","g":"P","x":32,"y":1.377},{"p":"D","g":"P","x":34,"y":1.352},{"p":"D","g":"P","x":36,"y":1.304},{"p":"D","g":"P","x":38,"y":1.255},{"p":"D","g":"P","x":40,"y":1.197},{"p":"D","g":"P","x":42,"y":1.124},
{"p":"D","g":"N","x":26,"y":1.610},{"p":"D","g":"N","x":28,"y":1.589},{"p":"D","g":"N","x":30,"y":1.565},{"p":"D","g":"N","x":32,"y":1.529},{"p":"D","g":"N","x":34,"y":1.480},{"p":"D","g":"N","x":36,"y":1.419},{"p":"D","g":"N","x":38,"y":1.352},{"p":"D","g":"N","x":40,"y":1.273},{"p":"D","g":"N","x":42,"y":1.179}
]
},
"columns": 2,
"spacing": {"column": 83, "row": 41},
"concat": [
{
 "width": 418, "height": 356,
 "layer": [
  {"data": {"name": "A"}, "mark": {"type": "circle", "size": 34, "opacity": 1},
   "encoding": {
    "x": {"field": "x", "type": "quantitative", "scale": {"domain": [25, 42], "nice": false}, "axis": {"values": [25, 30, 35, 40], "title": "Postmenstrual age (weeks)"}},
    "y": {"field": "y", "type": "quantitative", "scale": {"domain": [0, 0.3], "nice": false}, "axis": {"values": [0, 0.1, 0.2, 0.3], "format": "~g", "title": "Fractional anisotropy", "titlePadding": 13}},
    "fill": {"field": "g", "type": "nominal", "scale": {"domain": ["P", "N"], "range": ["#0A0AC8", "#1FCC1F"]}, "legend": null}}},
  {"data": {"name": "Ax"}, "mark": {"type": "point", "shape": "M-1,-1L1,1M-1,1L1,-1", "size": 150, "filled": false, "strokeWidth": 1.6, "opacity": 1},
   "encoding": {
    "x": {"field": "x", "type": "quantitative", "axis": {"values": [25, 30, 35, 40], "title": "Postmenstrual age (weeks)"}},
    "y": {"field": "y", "type": "quantitative", "axis": {"values": [0, 0.1, 0.2, 0.3], "format": "~g", "title": "Fractional anisotropy", "titlePadding": 13}},
    "stroke": {"field": "g", "type": "nominal", "scale": {"domain": ["P", "N"], "range": ["#1010F5", "#22EE22"]}, "legend": null}}},
  {"data": {"name": "fits"}, "transform": [{"filter": "datum.p == 'A'"}], "mark": {"type": "line", "strokeWidth": 4, "interpolate": "monotone"},
   "encoding": {
    "x": {"field": "x", "type": "quantitative", "axis": {"values": [25, 30, 35, 40], "title": "Postmenstrual age (weeks)"}},
    "y": {"field": "y", "type": "quantitative", "axis": {"values": [0, 0.1, 0.2, 0.3], "format": "~g", "title": "Fractional anisotropy", "titlePadding": 13}},
    "color": {"field": "g", "type": "nominal", "scale": {"domain": ["P", "N"], "range": ["#1818B0", "#2ECC2E"]}, "legend": null}}},
  {"data": {"values": [{}]}, "mark": {"type": "text", "text": "A", "fontSize": 28, "fontWeight": "bold", "align": "left", "baseline": "alphabetic", "color": "black"},
   "encoding": {"x": {"datum": 25.5, "type": "quantitative"}, "y": {"datum": 0.2705, "type": "quantitative"}}}
 ]
},
{
 "width": 418, "height": 356,
 "layer": [
  {"data": {"name": "B"}, "mark": {"type": "circle", "size": 34, "opacity": 1},
   "encoding": {
    "x": {"field": "x", "type": "quantitative", "scale": {"domain": [25, 42], "nice": false}, "axis": {"values": [25, 30, 35, 40], "title": "Postmenstrual age (weeks)"}},
    "y": {"field": "y", "type": "quantitative", "scale": {"domain": [0.8, 2.1], "nice": false}, "axis": {"values": [1, 1.5, 2], "format": "~g", "title": "Mean diffusivity (10⁻³ mm²/s)", "titlePadding": 0}},
    "fill": {"field": "g", "type": "nominal", "scale": {"domain": ["P", "N"], "range": ["#0A0AC8", "#1FCC1F"]}, "legend": null}}},
  {"data": {"name": "Bx"}, "mark": {"type": "point", "shape": "M-1,-1L1,1M-1,1L1,-1", "size": 150, "filled": false, "strokeWidth": 1.6, "opacity": 1},
   "encoding": {
    "x": {"field": "x", "type": "quantitative", "axis": {"values": [25, 30, 35, 40], "title": "Postmenstrual age (weeks)"}},
    "y": {"field": "y", "type": "quantitative", "axis": {"values": [1, 1.5, 2], "format": "~g", "title": "Mean diffusivity (10⁻³ mm²/s)", "titlePadding": 0}},
    "stroke": {"field": "g", "type": "nominal", "scale": {"domain": ["P", "N"], "range": ["#1010F5", "#22EE22"]}, "legend": null}}},
  {"data": {"name": "fits"}, "transform": [{"filter": "datum.p == 'B'"}], "mark": {"type": "line", "strokeWidth": 4, "interpolate": "monotone"},
   "encoding": {
    "x": {"field": "x", "type": "quantitative", "axis": {"values": [25, 30, 35, 40], "title": "Postmenstrual age (weeks)"}},
    "y": {"field": "y", "type": "quantitative", "axis": {"values": [1, 1.5, 2], "format": "~g", "title": "Mean diffusivity (10⁻³ mm²/s)", "titlePadding": 0}},
    "color": {"field": "g", "type": "nominal", "scale": {"domain": ["P", "N"], "range": ["#1818B0", "#2ECC2E"]}, "legend": null}}},
  {"data": {"values": [{}]}, "mark": {"type": "text", "text": "B", "fontSize": 28, "fontWeight": "bold", "align": "left", "baseline": "alphabetic", "color": "black"},
   "encoding": {"x": {"datum": 25.55, "type": "quantitative"}, "y": {"datum": 1.96, "type": "quantitative"}}},
  {"data": {"values": [{}]}, "mark": {"type": "rect", "color": {"gradient": "linear", "x1": 0, "y1": 0, "x2": 0, "y2": 1, "stops": [{"offset": 0, "color": "#2A90F0"}, {"offset": 1, "color": "#0B4DA0"}]}},
   "encoding": {"x": {"datum": 36.17, "type": "quantitative"}, "x2": {"datum": 40.89}, "y": {"datum": 2.13, "type": "quantitative"}, "y2": {"datum": 1.975}}},
  {"data": {"values": [{}]}, "mark": {"type": "rect", "color": {"gradient": "linear", "x1": 0, "y1": 0, "x2": 0, "y2": 1, "stops": [{"offset": 0, "color": "#6CD44A"}, {"offset": 1, "color": "#2E8A1E"}]}},
   "encoding": {"x": {"datum": 35.1, "type": "quantitative"}, "x2": {"datum": 42.0}, "y": {"datum": 1.949, "type": "quantitative"}, "y2": {"datum": 1.805}}},
  {"data": {"values": [{}]}, "mark": {"type": "text", "text": "Primary", "fontSize": 27, "fontWeight": "bold", "align": "center", "baseline": "middle", "color": "white"},
   "encoding": {"x": {"datum": 38.53, "type": "quantitative"}, "y": {"datum": 2.052, "type": "quantitative"}}},
  {"data": {"values": [{}]}, "mark": {"type": "text", "text": "Nonprimary", "fontSize": 27, "fontWeight": "bold", "align": "center", "baseline": "middle", "color": "white"},
   "encoding": {"x": {"datum": 38.55, "type": "quantitative"}, "y": {"datum": 1.877, "type": "quantitative"}}}
 ]
},
{
 "width": 418, "height": 356,
 "layer": [
  {"data": {"name": "C"}, "mark": {"type": "circle", "size": 34, "opacity": 1},
   "encoding": {
    "x": {"field": "x", "type": "quantitative", "scale": {"domain": [25, 42], "nice": false}, "axis": {"values": [25, 30, 35, 40], "title": "Postmenstrual age (weeks)"}},
    "y": {"field": "y", "type": "quantitative", "scale": {"domain": [0.8, 2.1], "nice": false}, "axis": {"values": [1, 1.5, 2], "format": "~g", "title": "Axial diffusivity (mm²s⁻¹ x 10⁻³)", "titlePadding": 6}},
    "fill": {"field": "g", "type": "nominal", "scale": {"domain": ["P", "N"], "range": ["#0A0AC8", "#1FCC1F"]}, "legend": null}}},
  {"data": {"name": "Cx"}, "mark": {"type": "point", "shape": "M-1,-1L1,1M-1,1L1,-1", "size": 150, "filled": false, "strokeWidth": 1.6, "opacity": 1},
   "encoding": {
    "x": {"field": "x", "type": "quantitative", "axis": {"values": [25, 30, 35, 40], "title": "Postmenstrual age (weeks)"}},
    "y": {"field": "y", "type": "quantitative", "axis": {"values": [1, 1.5, 2], "format": "~g", "title": "Axial diffusivity (mm²s⁻¹ x 10⁻³)", "titlePadding": 6}},
    "stroke": {"field": "g", "type": "nominal", "scale": {"domain": ["P", "N"], "range": ["#1010F5", "#22EE22"]}, "legend": null}}},
  {"data": {"name": "fits"}, "transform": [{"filter": "datum.p == 'C'"}], "mark": {"type": "line", "strokeWidth": 4, "interpolate": "monotone"},
   "encoding": {
    "x": {"field": "x", "type": "quantitative", "axis": {"values": [25, 30, 35, 40], "title": "Postmenstrual age (weeks)"}},
    "y": {"field": "y", "type": "quantitative", "axis": {"values": [1, 1.5, 2], "format": "~g", "title": "Axial diffusivity (mm²s⁻¹ x 10⁻³)", "titlePadding": 6}},
    "color": {"field": "g", "type": "nominal", "scale": {"domain": ["P", "N"], "range": ["#1818B0", "#2ECC2E"]}, "legend": null}}},
  {"data": {"values": [{}]}, "mark": {"type": "text", "text": "C", "fontSize": 28, "fontWeight": "bold", "align": "left", "baseline": "alphabetic", "color": "black"},
   "encoding": {"x": {"datum": 25.5, "type": "quantitative"}, "y": {"datum": 1.968, "type": "quantitative"}}}
 ]
},
{
 "width": 418, "height": 356,
 "layer": [
  {"data": {"name": "D"}, "mark": {"type": "circle", "size": 34, "opacity": 1},
   "encoding": {
    "x": {"field": "x", "type": "quantitative", "scale": {"domain": [25, 42], "nice": false}, "axis": {"values": [25, 30, 35, 40], "title": "Postmenstrual age (weeks)"}},
    "y": {"field": "y", "type": "quantitative", "scale": {"domain": [0.8, 2.1], "nice": false}, "axis": {"values": [1, 1.5, 2], "format": "~g", "title": "Radial diffusivity (mm²s⁻¹ x 10⁻³)", "titlePadding": 0}},
    "fill": {"field": "g", "type": "nominal", "scale": {"domain": ["P", "N"], "range": ["#0A0AC8", "#1FCC1F"]}, "legend": null}}},
  {"data": {"name": "Dx"}, "mark": {"type": "point", "shape": "M-1,-1L1,1M-1,1L1,-1", "size": 150, "filled": false, "strokeWidth": 1.6, "opacity": 1},
   "encoding": {
    "x": {"field": "x", "type": "quantitative", "axis": {"values": [25, 30, 35, 40], "title": "Postmenstrual age (weeks)"}},
    "y": {"field": "y", "type": "quantitative", "axis": {"values": [1, 1.5, 2], "format": "~g", "title": "Radial diffusivity (mm²s⁻¹ x 10⁻³)", "titlePadding": 0}},
    "stroke": {"field": "g", "type": "nominal", "scale": {"domain": ["P", "N"], "range": ["#1010F5", "#22EE22"]}, "legend": null}}},
  {"data": {"name": "fits"}, "transform": [{"filter": "datum.p == 'D'"}], "mark": {"type": "line", "strokeWidth": 4, "interpolate": "monotone"},
   "encoding": {
    "x": {"field": "x", "type": "quantitative", "axis": {"values": [25, 30, 35, 40], "title": "Postmenstrual age (weeks)"}},
    "y": {"field": "y", "type": "quantitative", "axis": {"values": [1, 1.5, 2], "format": "~g", "title": "Radial diffusivity (mm²s⁻¹ x 10⁻³)", "titlePadding": 0}},
    "color": {"field": "g", "type": "nominal", "scale": {"domain": ["P", "N"], "range": ["#1818B0", "#2ECC2E"]}, "legend": null}}},
  {"data": {"values": [{}]}, "mark": {"type": "text", "text": "D", "fontSize": 28, "fontWeight": "bold", "align": "left", "baseline": "alphabetic", "color": "black"},
   "encoding": {"x": {"datum": 25.53, "type": "quantitative"}, "y": {"datum": 1.965, "type": "quantitative"}}}
 ]
}
]
}
